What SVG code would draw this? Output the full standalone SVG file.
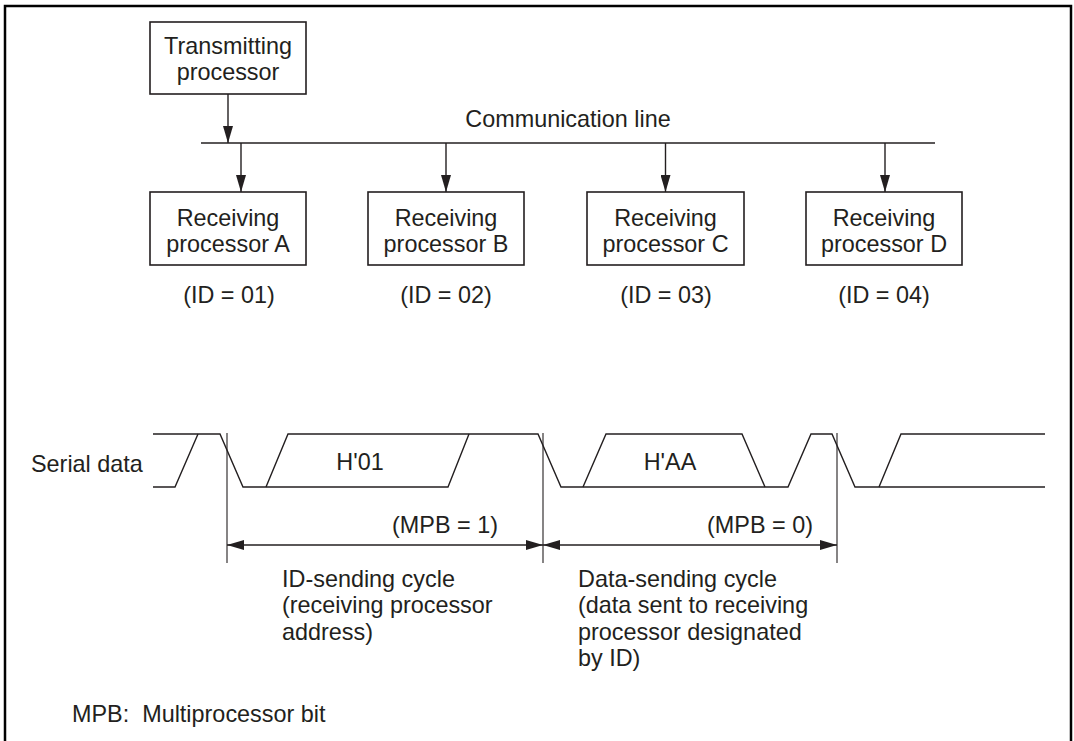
<svg xmlns="http://www.w3.org/2000/svg" width="1074" height="741" viewBox="0 0 1074 741">
<style>
text{font-family:"Liberation Sans",Arial,sans-serif;font-size:23.4px;fill:#231f20}
.m{text-anchor:middle}
.box{fill:#fff;stroke:#231f20;stroke-width:1.6}
.ln{fill:none;stroke:#231f20;stroke-width:1.4}
.thin{fill:none;stroke:#231f20;stroke-width:1.1}
</style>
<defs>
<marker id="ah" viewBox="0 0 17 10" refX="17" refY="5" markerWidth="17" markerHeight="10" markerUnits="userSpaceOnUse" orient="auto-start-reverse">
<path d="M0,0 L17,5 L0,10 Z" fill="#231f20"/>
</marker>
</defs>
<rect x="5" y="6" width="1066" height="745" fill="none" stroke="#000" stroke-width="2.5"/>

<g id="tx">
<rect class="box" x="150" y="22" width="156" height="72"/>
<text class="m" x="228" y="54">Transmitting</text>
<text class="m" x="228" y="80">processor</text>
</g>
<text class="m" x="568" y="127">Communication line</text>

<g id="rxA">
<rect class="box" x="150" y="192" width="156" height="73"/>
<text class="m" x="228" y="226">Receiving</text>
<text class="m" x="228" y="252">processor A</text>
<text class="m" x="229" y="303">(ID = 01)</text>
</g>
<g id="rxB">
<rect class="box" x="368" y="192" width="156" height="73"/>
<text class="m" x="446" y="226">Receiving</text>
<text class="m" x="446" y="252">processor B</text>
<text class="m" x="446" y="303">(ID = 02)</text>
</g>
<g id="rxC">
<rect class="box" x="587" y="192" width="157" height="73"/>
<text class="m" x="665.5" y="226">Receiving</text>
<text class="m" x="665.5" y="252">processor C</text>
<text class="m" x="666" y="303">(ID = 03)</text>
</g>
<g id="rxD">
<rect class="box" x="806" y="192" width="156" height="73"/>
<text class="m" x="884" y="226">Receiving</text>
<text class="m" x="884" y="252">processor D</text>
<text class="m" x="884" y="303">(ID = 04)</text>
</g>

<g id="connectors">
<line class="ln" x1="201" y1="143" x2="935" y2="143"/>
<line class="ln" x1="228" y1="94" x2="228" y2="143" marker-end="url(#ah)"/>
<line class="ln" x1="241" y1="143" x2="241" y2="192" marker-end="url(#ah)"/>
<line class="ln" x1="446" y1="143" x2="446" y2="192" marker-end="url(#ah)"/>
<line class="ln" x1="665.5" y1="143" x2="665.5" y2="192" marker-end="url(#ah)"/>
<line class="ln" x1="885" y1="143" x2="885" y2="192" marker-end="url(#ah)"/>
</g>

<g id="waveform">
<text x="31" y="472">Serial data</text>
<path class="ln" d="M153,434 H220 L243,487 H448 L469,434"/>
<path class="ln" d="M153,487 H175 L198,434"/>
<path class="ln" d="M266,487 L288,434 H538 L561,487 H788 L811,434 H832 L855,487 H1045"/>
<path class="ln" d="M583,487 L606,434 H742 L765,487"/>
<path class="ln" d="M879,487 L901,434 H1045"/>
<text class="m" x="360" y="470">H'01</text>
<text class="m" x="670" y="470">H'AA</text>
</g>

<g id="cycles">
<line class="thin" x1="227" y1="433" x2="227" y2="563"/>
<line class="thin" x1="543" y1="433" x2="543" y2="563"/>
<line class="thin" x1="837" y1="433" x2="837" y2="563"/>
<line class="ln" x1="227" y1="545" x2="543" y2="545" marker-start="url(#ah)" marker-end="url(#ah)"/>
<line class="ln" x1="543" y1="545" x2="837" y2="545" marker-start="url(#ah)" marker-end="url(#ah)"/>
<text class="m" x="445" y="533">(MPB = 1)</text>
<text class="m" x="760" y="533">(MPB = 0)</text>
<text x="282" y="587">ID-sending cycle</text>
<text x="282" y="613">(receiving processor</text>
<text x="282" y="640">address)</text>
<text x="578" y="587">Data-sending cycle</text>
<text x="578" y="613">(data sent to receiving</text>
<text x="578" y="640">processor designated</text>
<text x="578" y="666">by ID)</text>
</g>

<text x="72" y="722">MPB:&#160; Multiprocessor bit</text>
</svg>
